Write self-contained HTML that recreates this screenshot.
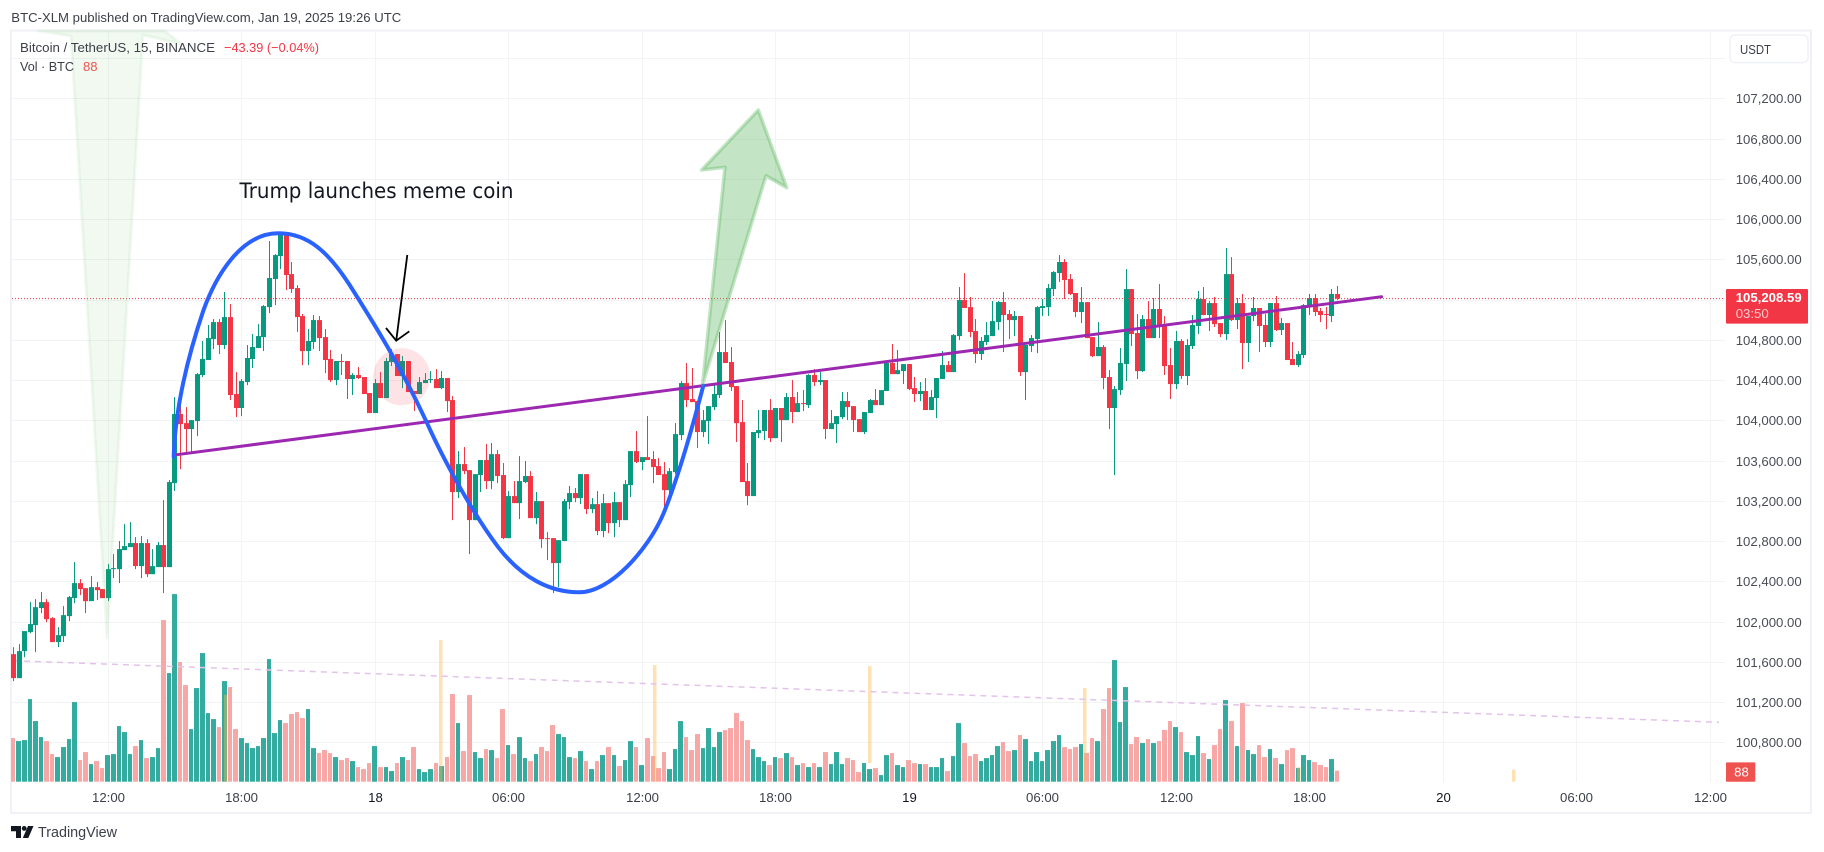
<!DOCTYPE html>
<html lang="en">
<head>
<meta charset="utf-8">
<title>BTC/USDT chart</title>
<style>
html,body{margin:0;padding:0;background:#fff;width:1824px;height:852px;overflow:hidden}
svg{display:block}
text{font-family:"Liberation Sans",sans-serif}
</style>
</head>
<body>
<svg id="chart" xmlns="http://www.w3.org/2000/svg" width="1824" height="852" viewBox="0 0 1824 852">
<rect x="0" y="0" width="1824" height="852" fill="#ffffff"/>
<text x="11.3" y="22" font-size="13.3" fill="#3c3f48" textLength="390" lengthAdjust="spacingAndGlyphs">BTC-XLM published on TradingView.com, Jan 19, 2025 19:26 UTC</text>
<rect x="11" y="30.5" width="1800" height="782.5" fill="none" stroke="#f0f1f6" stroke-width="2"/>
<g id="grid"></g>
<g id="volumes"></g>
<g id="markers"></g>
<line x1="13" y1="660.7" x2="1719" y2="722.3" stroke="#e3c3ea" stroke-width="1.5" stroke-dasharray="6 5"/>
<g id="candles"></g>
<g id="priceline"></g>
<polygon points="107,638 71,36 38,31 165,31 181,44 143,35" fill="rgba(76,175,80,0.08)" stroke="rgba(76,175,80,0.08)" stroke-width="3" stroke-linejoin="round"/>
<circle cx="401.7" cy="376.7" r="28.5" fill="rgba(242,54,69,0.14)"/>
<line x1="176.7" y1="454.7" x2="1381.7" y2="296.7" stroke="#9c27b0" stroke-width="3" stroke-linecap="round"/>
<path d="M173.7,456.7 C175,415 185,365 203.3,310.7 C215,278 240,233.3 278.3,233.3 C310,233.3 330,255 349,284 C375,325 400,365 426.7,422.3 C440,452 470,510 498.3,547.3 C522,578 550,592.3 579.3,592.3 C610,592.3 648,550 663.3,514 C678,478 693,425 703.3,385.7" fill="none" stroke="#2962ff" stroke-width="4" stroke-linecap="round"/>
<polygon points="702.5,385 725,167.3 701.7,170 758.3,110 786.7,187.7 766,175.7" fill="rgba(76,175,80,0.33)" stroke="rgba(76,175,80,0.33)" stroke-width="3.5" stroke-linejoin="round"/>
<g fill="none" stroke="#000000" stroke-width="1.8">
<line x1="407.3" y1="255" x2="396.2" y2="340.7"/>
<polyline points="386,328 396.2,340.7 409.3,331.3"/>
</g>
<text x="239.5" y="198" font-size="21" fill="#131722" style="font-family:'DejaVu Sans',sans-serif" textLength="274" lengthAdjust="spacingAndGlyphs">Trump launches meme coin</text>
<text x="20" y="52" font-size="13.2" fill="#3c3f48" textLength="195" lengthAdjust="spacingAndGlyphs">Bitcoin / TetherUS, 15, BINANCE</text>
<text x="224" y="52" font-size="13.2" fill="#f23645" textLength="95" lengthAdjust="spacingAndGlyphs">−43.39 (−0.04%)</text>
<text x="20" y="71" font-size="13.2" fill="#3c3f48" textLength="54" lengthAdjust="spacingAndGlyphs">Vol · BTC</text>
<text x="83" y="71" font-size="13.2" fill="#ef5350" textLength="14.5" lengthAdjust="spacingAndGlyphs">88</text>
<rect x="1730" y="35" width="78" height="27.6" rx="5" fill="#ffffff" stroke="#f0f1f6" stroke-width="1.5"/>
<text x="1740" y="54" font-size="13.2" fill="#3c3f48" textLength="31" lengthAdjust="spacingAndGlyphs">USDT</text>
<g id="yaxis"></g>
<g id="xaxis"></g>
<g id="tags"></g>
<g fill="#131722">
<path d="M11,826 H21 V838 H16 V831.3 H11 Z"/>
<circle cx="24.2" cy="828.4" r="2.4"/>
<path d="M28,826 H33.5 L28.3,838 H22.8 Z"/>
</g>
<text x="38" y="837" font-size="15" fill="#3c3f48" textLength="79" lengthAdjust="spacingAndGlyphs">TradingView</text>
</svg>
<script>
const opens = [
101676,101438,101706,101895,101965,102134,102193,102034,101796,101855,
102054,102233,102382,102332,102203,102342,102323,102233,102521,102521,
102710,102740,102780,102551,102780,102471,102541,102760,102541,103376,
104062,103972,103913,103992,104450,104599,104807,104976,104748,105026,
104261,104122,104380,104609,104718,104827,105125,105404,105632,105841,
105453,105314,105036,104688,104778,104996,104827,104609,104400,104589,
104589,104410,104450,104430,104271,104072,104370,104221,104579,104658,
104440,104589,104291,104261,104370,104400,104410,104320,104420,104201,
103287,103565,103505,103008,103456,103605,103396,103664,103456,102829,
103247,103177,103386,103446,103028,103197,102829,102829,102581,102800,
103187,103277,103227,103465,103118,103167,102899,103177,102978,103187,
103008,103356,103694,103585,103634,103615,103545,103465,103306,103485,
103853,104370,104211,104191,103883,103992,104131,104251,104678,104579,
104340,103982,103396,103247,103873,103893,104102,103823,104122,104002,
104231,104082,104171,104151,104450,104380,104400,103913,103962,104032,
104191,104141,104012,103883,104072,104201,104151,104291,104569,104459,
104489,104559,104320,104261,104291,104102,104221,104410,104549,104479,
104837,105195,105125,104887,104658,104778,104837,104976,105175,105056,
104996,105036,104479,104738,104807,105116,105125,105304,105463,105573,
105404,105265,105076,105175,104827,104638,104728,104430,104122,104300,
104559,105304,104867,104489,105006,104817,105106,104947,104549,104360,
104788,104440,104738,104937,105205,105046,105165,104966,104857,105453,
104996,105165,104768,105036,105116,104947,104778,105165,104897,104966,
104609,104549,104648,105135,105215,105086,105056,105036,105255];
const highs = [
101746,101776,101905,102193,102223,102293,102223,102044,101945,102153,
102253,102591,102422,102332,102452,102392,102323,102571,102670,102800,
102968,102988,102839,102849,102819,102720,102790,103207,103406,104231,
104261,104131,104002,104469,104788,104947,105006,105006,105275,105155,
104479,104410,104748,104857,104956,105145,105782,105652,105841,105841,
105573,105344,105056,104907,105046,105036,104907,104698,104589,104658,
104589,104469,104529,104430,104271,104410,104479,104619,104708,104658,
104638,104589,104291,104430,104469,104489,104509,104489,104420,104241,
103694,103734,103505,103465,103605,103764,103774,103704,103575,103297,
103396,103644,103595,103495,103287,103197,102889,102829,102809,103217,
103347,103327,103465,103465,103227,103297,103267,103177,103287,103187,
103406,103694,103893,103634,104042,103694,103625,103585,103525,103972,
104390,104569,104519,104191,104102,104141,104350,104877,104996,104728,
104340,104201,103575,103883,104102,104102,104211,104122,104122,104271,
104400,104281,104300,104459,104509,104479,104400,104102,104042,104281,
104281,104141,104012,104082,104211,104310,104300,104579,104758,104698,
104559,104559,104430,104380,104420,104300,104420,104688,104589,104857,
105324,105463,105225,105006,104827,104976,105185,105185,105275,105096,
105086,105036,104748,104847,105135,105205,105354,105483,105642,105603,
105453,105265,105324,105175,104827,104976,104748,104499,104340,104718,
105503,105304,105056,105046,105185,105215,105354,105036,104718,104887,
104807,104807,105046,105285,105324,105185,105225,104966,105712,105622,
105215,105255,105036,105225,105116,105056,105165,105235,105016,104966,
104778,104688,105155,105255,105255,105116,105125,105304,105334];
const lows = [
101408,101438,101646,101885,101696,102084,101994,101796,101746,101796,
102004,102183,102263,102084,102203,102213,102233,102203,102432,102382,
102710,102740,102521,102432,102442,102471,102541,102283,102541,103297,
103515,103684,103684,103843,104430,104599,104708,104658,104708,104201,
104032,104042,104350,104519,104718,104688,105066,105145,105503,105294,
105265,104877,104549,104549,104708,104688,104469,104380,104350,104450,
104211,104251,104410,104261,104072,104072,104221,104221,104539,104440,
104320,104281,104092,104261,104370,104370,104320,104310,104082,103008,
103227,103465,102670,103008,103287,103316,103316,103376,102819,102829,
103177,103018,103376,103028,102968,102730,102611,102283,102342,102800,
103118,103187,103167,103068,103078,102859,102839,102879,102839,102939,
103008,103237,103575,103505,103605,103376,103456,103118,103247,103465,
103803,104131,104181,103724,103833,103764,104102,104221,104569,104291,
103784,103386,103157,103247,103823,103803,103784,103823,103784,104002,
103972,104082,104092,104122,104340,104350,103813,103913,103774,104012,
104002,103883,103883,103863,104072,104151,104151,104291,104459,104459,
104360,104300,104181,104191,104102,104102,104022,104410,104479,104479,
104797,105116,104827,104569,104599,104748,104837,104897,104678,104807,
104837,104440,104201,104678,104668,105036,105036,105235,105374,105205,
105245,105026,104966,104817,104628,104638,104310,103913,103456,104251,
104390,104738,104410,104479,104817,104817,104817,104450,104211,104310,
104410,104350,104708,104857,105046,104887,104927,104827,104797,104986,
104907,104509,104579,104986,104678,104728,104728,104887,104847,104599,
104549,104529,104619,105046,105036,104976,104907,104976,105195];
const closes = [
101438,101706,101905,101975,102143,102193,102024,101796,101865,102064,
102243,102382,102323,102203,102342,102312,102233,102521,102531,102720,
102750,102780,102551,102780,102471,102551,102760,102541,103386,104062,
103962,103913,104002,104459,104609,104817,104976,104748,105026,104251,
104122,104390,104619,104728,104837,105135,105414,105642,105841,105444,
105304,105026,104688,104788,104996,104817,104599,104400,104589,104579,
104410,104450,104420,104261,104072,104370,104221,104589,104658,104440,
104589,104281,104261,104380,104400,104410,104320,104420,104191,103287,
103565,103495,103008,103465,103605,103396,103664,103446,102829,103247,
103177,103396,103446,103028,103197,102819,102819,102581,102809,103197,
103277,103227,103465,103118,103167,102899,103177,102978,103187,103008,
103366,103694,103585,103634,103605,103535,103456,103306,103495,103863,
104370,104201,104181,103883,104002,104141,104261,104678,104569,104330,
103972,103386,103247,103883,103903,104102,103823,104122,104002,104231,
104082,104171,104161,104450,104380,104400,103913,103972,104042,104191,
104131,104002,103883,104082,104201,104151,104300,104569,104459,104499,
104559,104310,104261,104291,104102,104231,104420,104549,104479,104847,
105195,105116,104877,104658,104788,104847,104986,105175,105046,104996,
105036,104479,104748,104817,105125,105135,105314,105473,105573,105394,
105255,105076,105175,104817,104638,104728,104420,104122,104310,104569,
105304,104857,104489,105006,104817,105106,104947,104539,104360,104788,
104440,104748,104947,105205,105046,105165,104956,104857,105453,104996,
105165,104768,105036,105116,104937,104778,105165,104897,104966,104599,
104549,104658,105145,105215,105076,105046,105046,105255,105208.59];
const volumes = [
349,325,333,661,485,357,325,221,197,277,
341,637,173,237,141,165,109,213,221,445,
397,221,285,333,189,197,269,1293,869,1501,
957,773,421,749,1029,549,501,437,805,757,
421,349,309,269,285,349,981,389,493,469,
541,557,509,581,269,229,253,229,197,173,
189,165,117,101,149,285,117,117,85,149,
197,173,277,101,77,101,149,125,197,701,
469,245,693,237,189,261,253,189,581,293,
221,357,189,165,221,277,245,453,381,357,
197,189,245,165,101,165,213,277,213,125,
173,325,277,133,349,205,109,237,101,261,
485,357,253,381,269,429,277,397,413,429,
549,485,333,261,197,165,133,197,189,229,
197,133,149,117,149,117,237,141,237,141,
189,173,77,149,101,109,53,213,229,133,
117,173,149,141,141,117,117,189,85,205,
469,309,205,221,165,189,213,285,317,245,
253,373,341,165,237,165,253,325,373,277,
261,277,301,229,349,325,581,749,973,477,
757,301,357,309,341,309,325,413,485,437,
397,237,213,365,229,181,293,421,653,485,
285,629,253,221,293,197,261,189,141,253,
269,109,213,173,157,133,117,181,88];
const markerBars = [38.1,76.8,115.4,154,192.6,231.1,269.7];
const markerValues = [696,1133,933,925,749,117,96];
const markerBases = [0,0,0,149,0,0,0];
const priceTicks = [107600,107200,106800,106400,106000,105600,105200,104800,104400,104000,103600,103200,102800,102400,102000,101600,101200,100800];
const priceTickLabels = ["","107,200.00","106,800.00","106,400.00","106,000.00","105,600.00","","104,800.00","104,400.00","104,000.00","103,600.00","103,200.00","102,800.00","102,400.00","102,000.00","101,600.00","101,200.00","100,800.00"];
const timeTickBars = [17,41,65,89,113,137,161,185,209,233,257,281,305];
const timeTickLabels = ["12:00","18:00","18","06:00","12:00","18:00","19","06:00","12:00","18:00","20","06:00","12:00"];
const lastPriceText = "105,208.59";
const countdownText = "03:50";

const NS = "http://www.w3.org/2000/svg";
const BAR_X0 = 13.1, BAR_STEP = 5.562;
const PRICE_Y0 = 98.3, PRICE_REF = 107200, PRICE_SCALE = 0.100625;
const VOL_BASE = 781.7, VOL_SCALE = 0.125;
const PANE_LEFT = 12, PANE_RIGHT = 1725;
const UP = "#089981", DOWN = "#f23645", VOL_UP = "#33ab9e", VOL_DOWN = "#f7a7a6";
function xScale(i){ return BAR_X0 + i * BAR_STEP; }
function yScale(p){ return PRICE_Y0 + (PRICE_REF - p) * PRICE_SCALE; }
function vScale(v){ return VOL_BASE - v * VOL_SCALE; }
function make(tag, parent, attrs){
  const el = document.createElementNS(NS, tag);
  for (const k in attrs) el.setAttribute(k, attrs[k]);
  parent.appendChild(el);
  return el;
}
const gridG = document.getElementById("grid");
const volG = document.getElementById("volumes");
const markG = document.getElementById("markers");
const candleG = document.getElementById("candles");
const lineG = document.getElementById("priceline");
const yG = document.getElementById("yaxis");
const xG = document.getElementById("xaxis");
const tagG = document.getElementById("tags");

priceTicks.forEach(function(p, i){
  const y = Math.round(yScale(p)) + 0.5;
  const ln = make("line", gridG, {x1:PANE_LEFT, x2:PANE_RIGHT, y1:y, y2:y, stroke:"#f2f3f5", "stroke-width":1});
  
  
  if (priceTickLabels[i]) {
    const t = make("text", yG, {x:1735.7, y:y + 4.5, "font-size":13.2, fill:"#4a4d57"});
    
    
    t.textContent = priceTickLabels[i];
  }
});
timeTickBars.forEach(function(b, i){
  const x = Math.round(xScale(b)) + 0.5;
  const ln = make("line", gridG, {x1:x, x2:x, y1:31, y2:782, stroke:"#f2f3f5", "stroke-width":1});
  
  
  const isDay = timeTickLabels[i].length === 2;
  const t = make("text", xG, {x:x, y:802, "font-size":13.2, "text-anchor":"middle", fill: isDay ? "#131722" : "#3c3f48"});
  
  
  t.textContent = timeTickLabels[i];
});
volumes.forEach(function(v, i){
  const x1 = Math.round(xScale(i) - 2.2), x2 = Math.round(xScale(i + 1) - 2.2) - 1;
  const top = vScale(v);
  const bar = make("rect", volG, {x:x1, y:top, width:x2 - x1, height:VOL_BASE - top, fill: closes[i] >= opens[i] ? VOL_UP : VOL_DOWN});
  
  
});
markerBars.forEach(function(b, i){
  const xc = xScale(b);
  const top = vScale(markerValues[i]);
  const base = vScale(markerBases[i]);
  const bar = make("rect", markG, {x:Math.round(xc - 1.5), y:top, width:3.5, height:base - top, fill:"rgba(255,183,77,0.42)"});
  
  
});
opens.forEach(function(o, i){
  const c = closes[i];
  const col = c >= o ? UP : DOWN;
  const xc = Math.round(xScale(i));
  const wick = make("rect", candleG, {x:xc, y:yScale(highs[i]), width:1, height:Math.max(1, yScale(lows[i]) - yScale(highs[i])), fill:col});
  
  
  const top = yScale(Math.max(o, c)), bot = yScale(Math.min(o, c));
  const body = make("rect", candleG, {x:xc - 2, y:top, width:5, height:Math.max(1, bot - top), fill:col});
  
  
});
const lastY = yScale(closes[closes.length - 1]);
const pl = make("line", lineG, {x1:PANE_LEFT, x2:PANE_RIGHT, y1:lastY, y2:lastY, stroke:"#f23645", "stroke-width":1, "stroke-dasharray":"1 2"});


const priceTag = make("rect", tagG, {x:1726, y:lastY - 9.7, width:82, height:34.7, fill:"#f23645", rx:1});


const priceTagText = make("text", tagG, {x:1735.7, y:lastY + 3.5, "font-size":13.2, "font-weight":"bold", fill:"#ffffff", textLength:66, lengthAdjust:"spacingAndGlyphs"});


priceTagText.textContent = lastPriceText;
const cdText = make("text", tagG, {x:1735.7, y:lastY + 19.5, "font-size":13.2, fill:"#fccbcd"});


cdText.textContent = countdownText;
const lastVol = volumes[volumes.length - 1];
const volTag = make("rect", tagG, {x:1726, y:vScale(lastVol) - 8.3, width:29.3, height:19.3, fill:"#ef5350", rx:1});


const volTagText = make("text", tagG, {x:1741.5, y:vScale(lastVol) + 6, "font-size":13.2, "text-anchor":"middle", fill:"#ffffff"});


volTagText.textContent = String(lastVol);
</script>
</body>
</html>
